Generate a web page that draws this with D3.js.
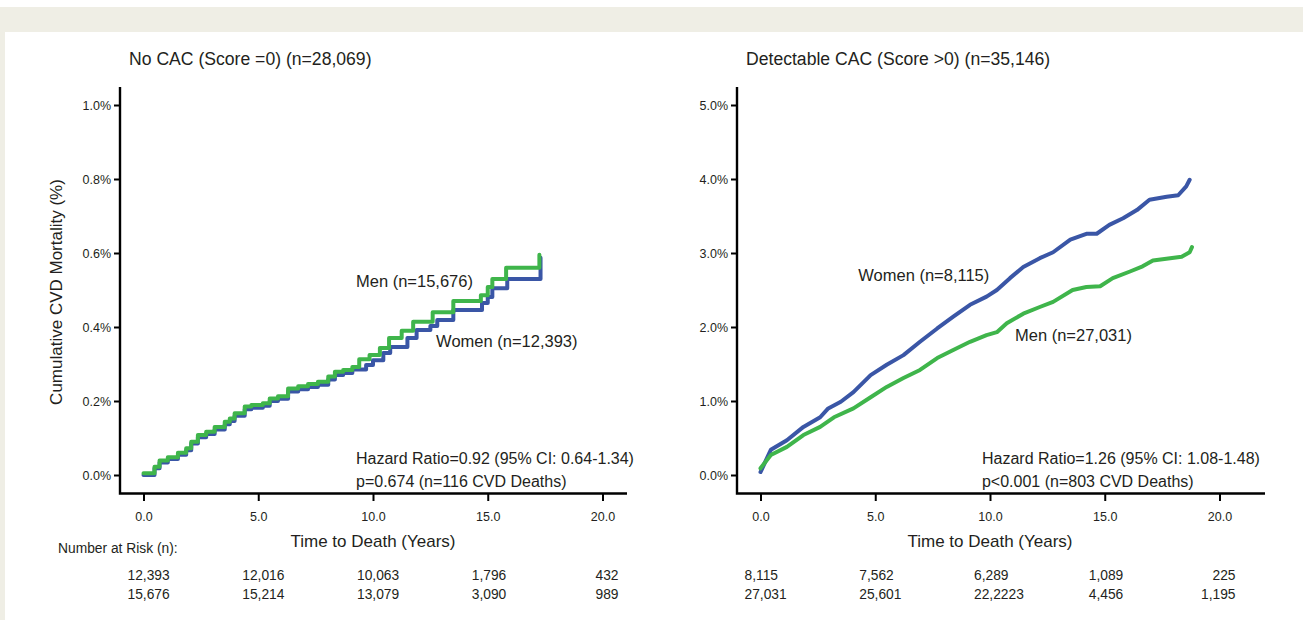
<!DOCTYPE html>
<html>
<head>
<meta charset="utf-8">
<script src="https://cdn.jsdelivr.net/npm/d3@7"></script>
<style>
    body { margin: 0; background: #fff; }
    svg text { font-family: "Liberation Sans", Arial, Helvetica, sans-serif; fill: #231f20; }
</style>
</head>
<body>
<svg id="chart"></svg>
<script>
// x ticks and risk-table times (years)
const xTicks = [0, 5, 10, 15, 20];
const riskTimes = [0, 5, 10, 15, 20];

// ---- No CAC panel ----
const noCacTitle = "No CAC (Score =0) (n=28,069)";
const noCacYTicks = [0, 0.2, 0.4, 0.6, 0.8, 1.0];
// [years, cumulative mortality %]
const noCacMen = [
    [0, 0.005], [0.48, 0.022], [0.7, 0.039], [1.06, 0.048], [1.5, 0.06], [1.86, 0.072],
    [2.08, 0.09], [2.37, 0.108], [2.73, 0.117], [3.1, 0.13], [3.54, 0.144], [3.76, 0.153],
    [3.97, 0.167], [4.41, 0.185], [4.7, 0.189], [5.2, 0.194], [5.5, 0.207], [5.86, 0.213],
    [6.3, 0.234], [6.74, 0.24], [7.17, 0.246], [7.6, 0.252], [8.05, 0.266], [8.34, 0.279],
    [8.7, 0.284], [9.1, 0.292], [9.4, 0.313], [9.85, 0.324], [10.3, 0.343], [10.7, 0.37],
    [11.25, 0.39], [11.75, 0.414], [12.6, 0.44], [13.5, 0.47], [14.7, 0.486], [15.0, 0.508],
    [15.2, 0.53], [15.8, 0.56], [17.25, 0.595]
];
const noCacWomen = [
    [0, 0.0], [0.48, 0.018], [0.7, 0.034], [1.06, 0.043], [1.5, 0.055], [1.86, 0.067],
    [2.08, 0.085], [2.37, 0.102], [2.73, 0.111], [3.1, 0.123], [3.54, 0.137], [3.76, 0.146],
    [3.97, 0.16], [4.41, 0.178], [4.7, 0.182], [5.2, 0.187], [5.5, 0.2], [5.86, 0.206],
    [6.3, 0.226], [6.74, 0.232], [7.17, 0.238], [7.6, 0.244], [8.05, 0.258], [8.34, 0.27],
    [8.7, 0.276], [9.1, 0.285], [9.7, 0.297], [10.0, 0.31], [10.45, 0.33], [10.75, 0.346],
    [11.5, 0.37], [11.9, 0.392], [12.5, 0.403], [12.8, 0.419], [13.5, 0.446], [14.75, 0.465],
    [15.0, 0.481], [15.2, 0.505], [15.85, 0.53], [17.3, 0.587]
];
const noCacWomenRisk = ["12,393", "12,016", "10,063", "1,796", "432"];
const noCacMenRisk = ["15,676", "15,214", "13,079", "3,090", "989"];

// ---- Detectable CAC panel ----
const cacTitle = "Detectable CAC (Score >0) (n=35,146)";
const cacYTicks = [0, 1, 2, 3, 4, 5];
const cacWomen = [
    [0, 0.04], [0.45, 0.34], [1.15, 0.47], [1.87, 0.65], [2.6, 0.78], [2.95, 0.9],
    [3.5, 0.99], [4.05, 1.12], [4.8, 1.35], [5.5, 1.49], [6.23, 1.62], [6.95, 1.8],
    [7.7, 1.98], [8.4, 2.14], [9.13, 2.3], [9.85, 2.41], [10.3, 2.5], [10.87, 2.66],
    [11.45, 2.81], [12.17, 2.93], [12.75, 3.01], [13.5, 3.18], [14.2, 3.26], [14.65, 3.26],
    [15.2, 3.38], [15.8, 3.47], [16.4, 3.58], [16.95, 3.72], [17.7, 3.76], [18.2, 3.78],
    [18.55, 3.9], [18.7, 3.99]
];
const cacMen = [
    [0, 0.09], [0.45, 0.27], [1.15, 0.38], [1.87, 0.54], [2.6, 0.65], [3.2, 0.78],
    [4.05, 0.9], [4.8, 1.05], [5.5, 1.19], [6.23, 1.31], [6.95, 1.42], [7.7, 1.58],
    [8.4, 1.69], [9.13, 1.8], [9.85, 1.89], [10.3, 1.93], [10.73, 2.05], [11.45, 2.18],
    [12.17, 2.27], [12.75, 2.34], [13.6, 2.5], [14.2, 2.54], [14.8, 2.55], [15.35, 2.66],
    [16.1, 2.75], [16.65, 2.82], [17.1, 2.9], [17.85, 2.93], [18.35, 2.95], [18.7, 3.01],
    [18.8, 3.08]
];
const cacWomenRisk = ["8,115", "7,562", "6,289", "1,089", "225"];
const cacMenRisk = ["27,031", "25,601", "22,2223", "4,456", "1,195"];

const width = 1303, height = 620;
const blue = '#3a56a6', green = '#3fb54b';

const svg = d3.select('#chart').attr('width', width).attr('height', height);

// page background
svg.append('rect').attr('x', 0).attr('y', 7).attr('width', width).attr('height', height - 7).attr('fill', '#efeee5');
svg.append('rect').attr('x', 5).attr('y', 32).attr('width', width - 5).attr('height', height - 32).attr('fill', '#fff');

const panels = [
    {
        left: 120, axisEnd: 507, title: noCacTitle, titleX: 129, yTicks: noCacYTicks,
        curve: d3.curveStepAfter, showYLabel: true,
        series: [ { data: noCacWomen, color: blue }, { data: noCacMen, color: green } ],
        risk: [noCacWomenRisk, noCacMenRisk],
        labels: [
            { text: 'Men (n=15,676)', t: 9.26, v: 0.508, size: 16.5 },
            { text: 'Women (n=12,393)', t: 12.75, v: 0.346, size: 16.5 },
            { text: 'Hazard Ratio=0.92 (95% CI: 0.64-1.34)', t: 9.26, v: 0.03, size: 16 },
            { text: 'p=0.674 (n=116 CVD Deaths)', t: 9.26, v: -0.032, size: 16 }
        ]
    },
    {
        left: 737, axisEnd: 528, title: cacTitle, titleX: 746, yTicks: cacYTicks,
        curve: d3.curveLinear, showYLabel: false,
        series: [ { data: cacWomen, color: blue }, { data: cacMen, color: green } ],
        risk: [cacWomenRisk, cacMenRisk],
        labels: [
            { text: 'Women (n=8,115)', t: 4.26, v: 2.62, size: 16.5 },
            { text: 'Men (n=27,031)', t: 11.09, v: 1.81, size: 16.5 },
            { text: 'Hazard Ratio=1.26 (95% CI: 1.08-1.48)', t: 9.65, v: 0.149, size: 16 },
            { text: 'p<0.001 (n=803 CVD Deaths)', t: 9.65, v: -0.16, size: 16 }
        ]
    }
];

panels.forEach(p => {
    const g = svg.append('g').attr('transform', `translate(${p.left},0)`);

    const xScale = d3.scaleLinear().domain([0, 20]).range([23.5, 482.5]);
    const yScale = d3.scaleLinear().domain([0, d3.max(p.yTicks)]).range([475, 105]);

    // title
    svg.append('text')
        .attr('x', p.titleX).attr('y', 65)
        .attr('font-size', 17.6)
        .text(p.title);

    // y axis
    const yAxis = g.append('g')
        .call(d3.axisLeft(yScale).tickValues(p.yTicks).tickSize(6).tickPadding(3)
            .tickFormat(d => d.toFixed(1) + '%'));
    yAxis.select('.domain').remove();
    yAxis.selectAll('line').attr('stroke', '#000').attr('stroke-width', 2);
    yAxis.selectAll('text').attr('font-size', 12.5);

    // x axis
    const xAxis = g.append('g')
        .attr('transform', 'translate(0,493)')
        .call(d3.axisBottom(xScale).tickValues(xTicks).tickSize(8).tickPadding(11)
            .tickFormat(d3.format('.1f')));
    xAxis.select('.domain').remove();
    xAxis.selectAll('line').attr('stroke', '#000').attr('stroke-width', 2);
    xAxis.selectAll('text').attr('font-size', 12.5);

    // axis lines
    g.append('path')
        .attr('d', `M0,87V493.5H${p.axisEnd}`)
        .attr('fill', 'none')
        .attr('stroke', '#000')
        .attr('stroke-width', 2.4);

    // axis titles
    g.append('text')
        .attr('x', xScale(10)).attr('y', 547)
        .attr('text-anchor', 'middle')
        .attr('font-size', 17)
        .text('Time to Death (Years)');

    if (p.showYLabel) {
        svg.append('text')
            .attr('transform', 'translate(62,292) rotate(-90)')
            .attr('text-anchor', 'middle')
            .attr('font-size', 17)
            .text('Cumulative CVD Mortality (%)');
        svg.append('text')
            .attr('x', 58).attr('y', 553)
            .attr('font-size', 13.8)
            .text('Number at Risk (n):');
    }

    // survival curves
    const line = d3.line()
        .x(d => xScale(d[0]))
        .y(d => yScale(d[1]))
        .curve(p.curve);

    p.series.forEach(s => {
        g.append('path')
            .datum(s.data)
            .attr('fill', 'none')
            .attr('stroke', s.color)
            .attr('stroke-width', 4)
            .attr('stroke-linejoin', 'round')
            .attr('stroke-linecap', 'round')
            .attr('d', line);
    });

    // annotations
    p.labels.forEach(l => {
        g.append('text')
            .attr('x', xScale(l.t)).attr('y', yScale(l.v))
            .attr('font-size', l.size)
            .text(l.text);
    });

    // number at risk rows
    p.risk.forEach((row, i) => {
        row.forEach((val, j) => {
            const last = j === row.length - 1;
            g.append('text')
                .attr('x', xScale(riskTimes[j]) + (last ? 16 : -16))
                .attr('y', 580 + i * 19)
                .attr('text-anchor', last ? 'end' : 'start')
                .attr('font-size', 13.8)
                .text(val);
        });
    });
});
</script>
</body>
</html>
